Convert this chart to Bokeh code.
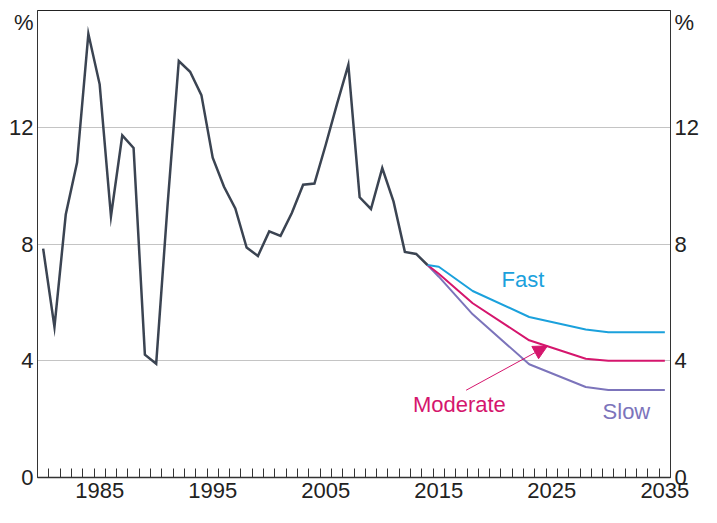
from bokeh.plotting import figure
from bokeh.models import Range1d, FixedTicker, LinearAxis, Arrow, NormalHead, Label
from bokeh.embed import file_html
from bokeh.resources import INLINE

# ---- data ----
hist_years = list(range(1980, 2015))
hist_vals = [7.84, 5.16, 9.01, 10.79, 15.2, 13.47, 8.95, 11.72, 11.29, 4.21,
             3.9, 9.3, 14.27, 13.9, 13.1, 10.96, 9.96, 9.22, 7.88, 7.59,
             8.43, 8.28, 9.06, 10.03, 10.07, 11.4, 12.8, 14.14, 9.6, 9.2,
             10.6, 9.45, 7.73, 7.66, 7.28]

proj_years = [2014, 2015, 2018, 2023, 2028, 2030, 2035]
fast = [7.28, 7.22, 6.39, 5.5, 5.07, 4.98, 4.98]
moderate = [7.28, 6.98, 5.97, 4.7, 4.07, 4.0, 4.0]
slow = [7.28, 6.88, 5.59, 3.88, 3.1, 3.0, 3.0]

y_ticks = [0, 4, 8, 12]
unit_tick = 15.6
x_label_years = [1985, 1995, 2005, 2015, 2025, 2035]
year_bounds = [y + 0.5 for y in range(1980, 2035)]
x_start, x_end = 1979.5, 2035.5

# ---- style ----
FONT = "Liberation Sans"
FS = "22px"
C_HIST = "#3b4452"
C_FAST = "#1ba1dc"
C_MOD = "#d5166d"
C_SLOW = "#7c74bb"
C_AXIS = "#333333"
C_TXT = "#222222"

p = figure(width=701, height=507,
           x_range=Range1d(x_start, x_end), y_range=Range1d(0, 16),
           output_backend="svg", toolbar_location=None,
           min_border_left=37, min_border_right=0,
           min_border_top=10, min_border_bottom=30)
p.outline_line_color = "#222222"
p.outline_line_width = 1
p.background_fill_color = "white"
p.border_fill_color = "white"

# grid
p.xgrid.visible = False
p.ygrid.ticker = FixedTicker(ticks=[t for t in y_ticks if t > 0])
p.ygrid.grid_line_color = "#c4c4c4"
p.ygrid.grid_line_width = 1

# x axis
xa = p.xaxis[0]
xa.ticker = FixedTicker(ticks=x_label_years, minor_ticks=year_bounds)
xa.major_tick_in = 0
xa.major_tick_out = 0
xa.minor_tick_in = 9
xa.minor_tick_out = 0
xa.minor_tick_line_color = C_AXIS
xa.minor_tick_line_width = 1
xa.axis_line_color = C_AXIS
xa.axis_line_width = 1.5
xa.major_label_text_font = FONT
xa.major_label_text_font_size = FS
xa.major_label_text_color = C_TXT
xa.major_label_text_line_height = 1.0
xa.major_label_standoff = 5

y_overrides = {t: str(t) for t in y_ticks}
y_overrides[unit_tick] = "%"


def style_y(ax, standoff):
    ax.ticker = FixedTicker(ticks=y_ticks + [unit_tick])
    ax.major_label_overrides = dict(y_overrides)
    ax.major_tick_in = 0
    ax.major_tick_out = 0
    ax.minor_tick_in = 0
    ax.minor_tick_out = 0
    ax.axis_line_color = C_AXIS
    ax.axis_line_width = 1
    ax.major_label_text_font = FONT
    ax.major_label_text_font_size = FS
    ax.major_label_text_color = C_TXT
    ax.major_label_standoff = standoff


style_y(p.yaxis[0], 4)
ra = LinearAxis()
style_y(ra, 4)
p.add_layout(ra, "right")

# lines
p.line(proj_years, slow, line_color=C_SLOW, line_width=2)
p.line(proj_years, moderate, line_color=C_MOD, line_width=2)
p.line(proj_years, fast, line_color=C_FAST, line_width=2)
p.line(hist_years, hist_vals, line_color=C_HIST, line_width=2.5, line_join="miter")

# series labels
for txt, x, y, c in [("Fast", 2022.44, 6.78, C_FAST),
                     ("Moderate", 2016.82, 2.5, C_MOD),
                     ("Slow", 2031.6, 2.26, C_SLOW)]:
    p.add_layout(Label(x=x, y=y, text=txt, text_align="center", text_baseline="middle",
                       text_font=FONT, text_font_size=FS, text_color=c))

p.add_layout(Arrow(end=NormalHead(size=14, fill_color=C_MOD, line_color=C_MOD, line_width=1),
                   x_start=2017.42, y_start=2.99, x_end=2024.62, y_end=4.51,
                   line_color=C_MOD, line_width=1))

open("out.html", "w").write(file_html(p, INLINE))
